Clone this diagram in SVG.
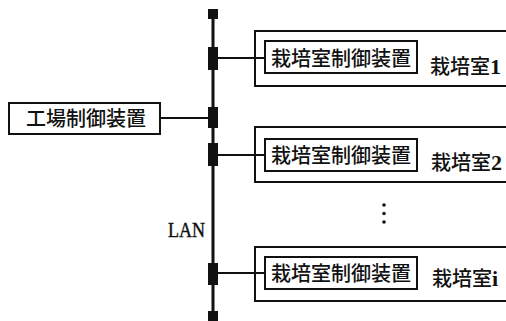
<svg xmlns="http://www.w3.org/2000/svg" width="506" height="321" viewBox="0 0 506 321">
<style>
.box{fill:#fff;stroke:#111;stroke-width:2}
.ln{stroke:#111;stroke-width:1.8;fill:none}
.bus{stroke:#111;stroke-width:3;fill:none}
.blk{fill:#111}
.jp{font-family:"Noto Sans CJK JP","Noto Sans CJK SC",sans-serif;font-size:20px;fill:#111;font-weight:500}
.num{font-family:"Liberation Serif",serif;font-weight:bold;font-size:22px}
.lan{font-family:"Liberation Serif",serif;font-size:20px;fill:#111;stroke:#111;stroke-width:0.4}
</style>
<rect width="506" height="321" fill="#fff"/>
<g id="room1">
<rect class="box" x="255" y="31" width="260" height="55"/>
<rect class="box" x="265" y="41" width="152" height="32"/>
<text class="jp" x="341" y="65.5" text-anchor="middle">栽培室制御装置</text>
<text class="jp" x="430" y="73.5">栽培室<tspan class="num">1</tspan></text>
</g>
<g id="room2">
<rect class="box" x="255" y="127" width="260" height="55"/>
<rect class="box" x="265" y="139" width="152" height="32"/>
<text class="jp" x="341" y="162.5" text-anchor="middle">栽培室制御装置</text>
<text class="jp" x="431" y="170">栽培室<tspan class="num">2</tspan></text>
</g>
<g id="roomi">
<rect class="box" x="255" y="247" width="260" height="54"/>
<rect class="box" x="265" y="257" width="152" height="32"/>
<text class="jp" x="341" y="280.5" text-anchor="middle">栽培室制御装置</text>
<text class="jp" x="432" y="286">栽培室<tspan class="num">i</tspan></text>
</g>
<g id="factory">
<rect class="box" x="9" y="103" width="151" height="31"/>
<text class="jp" x="86" y="126" text-anchor="middle">工場制御装置</text>
</g>
<g id="dots" fill="#111">
<circle cx="384" cy="205" r="1.8"/>
<circle cx="384" cy="213.5" r="1.8"/>
<circle cx="384" cy="222" r="1.8"/>
</g>
<g id="connectors">
<line class="bus" x1="213" y1="14" x2="213" y2="316"/>
<rect class="blk" x="208" y="9" width="10" height="10"/>
<rect class="blk" x="208" y="311" width="10" height="10"/>
<rect class="blk" x="208" y="47" width="10" height="23"/>
<rect class="blk" x="208" y="107" width="10" height="21"/>
<rect class="blk" x="208" y="143" width="10" height="23"/>
<rect class="blk" x="208" y="263" width="10" height="22"/>
<line class="ln" x1="218" y1="58" x2="265" y2="58"/>
<line class="ln" x1="160" y1="118" x2="208" y2="118"/>
<line class="ln" x1="218" y1="155" x2="265" y2="155"/>
<line class="ln" x1="218" y1="273" x2="265" y2="273"/>
<text class="lan" x="205" y="237" text-anchor="end" textLength="37" lengthAdjust="spacingAndGlyphs">LAN</text>
</g>
</svg>
